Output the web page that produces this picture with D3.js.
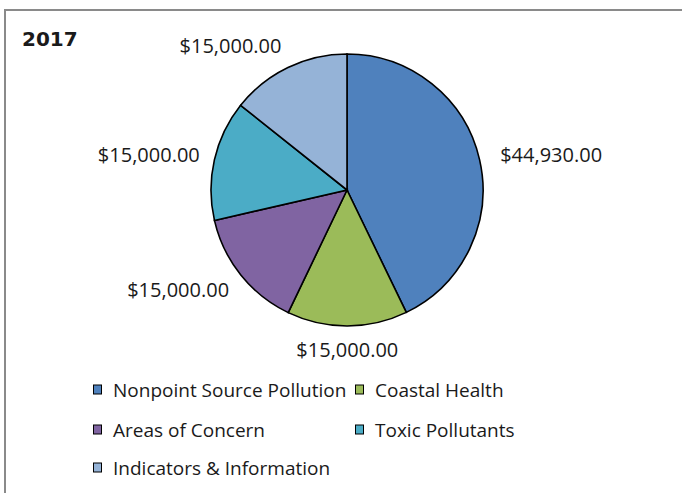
<!DOCTYPE html>
<html>
<head>
<meta charset="utf-8">
<script src="https://cdn.jsdelivr.net/npm/d3@7"></script>
<style>
  body { margin: 0; background: #fff; }
  text { font-family: "Open Sans", sans-serif; fill: #1a1a1a; }
</style>
</head>
<body>
<div id="chart"></div>
<script>
var w = 682;
var h = 493;

// data
var categories = ["Nonpoint Source Pollution", "Coastal Health", "Areas of Concern", "Toxic Pollutants", "Indicators & Information"];
var amounts = [44930, 15000, 15000, 15000, 15000];
var colors = ["#4F81BD", "#9BBB59", "#8064A2", "#4BACC6", "#95B3D7"];
var title = "2017";

var cx = 347, cy = 190, r = 136;

var svg = d3.select("#chart")
    .append("svg")
    .attr("width", w)
    .attr("height", h);

// frame (only left & top edges visible in the crop)
svg.append("rect")
    .attr("x", 5)
    .attr("y", 10)
    .attr("width", 800)
    .attr("height", 600)
    .attr("fill", "none")
    .attr("stroke", "#8a8a8a")
    .attr("stroke-width", 2);

svg.append("text")
    .attr("x", 22)
    .attr("y", 46)
    .style("font-family", "'DejaVu Sans', sans-serif")
    .style("font-weight", "bold")
    .style("font-size", "20px")
    .text(title);

var data = categories.map(function(c, i) {
    return { name: c, value: amounts[i], color: colors[i] };
});

var pie = d3.pie()
    .value(function(d) { return d.value; })
    .sort(null);

var arc = d3.arc()
    .innerRadius(0)
    .outerRadius(r);

var g = svg.append("g")
    .attr("transform", "translate(" + cx + "," + cy + ")");

var arcs = pie(data);

g.selectAll("path")
    .data(arcs)
    .enter()
    .append("path")
    .attr("d", arc)
    .attr("fill", function(d) { return d.data.color; })
    .attr("stroke", "#000")
    .attr("stroke-width", 1.6);

var fmt = d3.format("$,.2f");
var labelR = r + 15;

g.selectAll("text.lbl")
    .data(arcs)
    .enter()
    .append("text")
    .attr("class", "lbl")
    .style("font-size", "20px")
    .attr("dominant-baseline", "central")
    .each(function(d) {
        var a = (d.startAngle + d.endAngle) / 2;
        var dx = Math.sin(a), dy = -Math.cos(a);
        var anchor = dx > 0.1 ? "start" : (dx < -0.1 ? "end" : "middle");
        d3.select(this)
            .attr("x", labelR * dx + (anchor === "start" ? 6 : 0))
            .attr("y", labelR * dy + dy * 9)
            .attr("text-anchor", anchor);
    })
    .text(function(d) { return fmt(d.data.value); });

// legend, two columns
var legX = [93, 355];
var legY = [390, 430, 468];

var leg = svg.selectAll("g.leg")
    .data(data)
    .enter()
    .append("g")
    .attr("class", "leg")
    .attr("transform", function(d, i) {
        return "translate(" + legX[i % 2] + "," + legY[Math.floor(i / 2)] + ")";
    });

leg.append("rect")
    .attr("x", 0.5)
    .attr("y", -5)
    .attr("width", 8)
    .attr("height", 9)
    .attr("fill", function(d) { return d.color; })
    .attr("stroke", "#000")
    .attr("stroke-width", 1);

leg.append("text")
    .attr("x", 20)
    .attr("y", 0)
    .attr("dominant-baseline", "central")
    .style("font-size", "19px")
    .text(function(d) { return d.name; });
</script>
</body>
</html>
